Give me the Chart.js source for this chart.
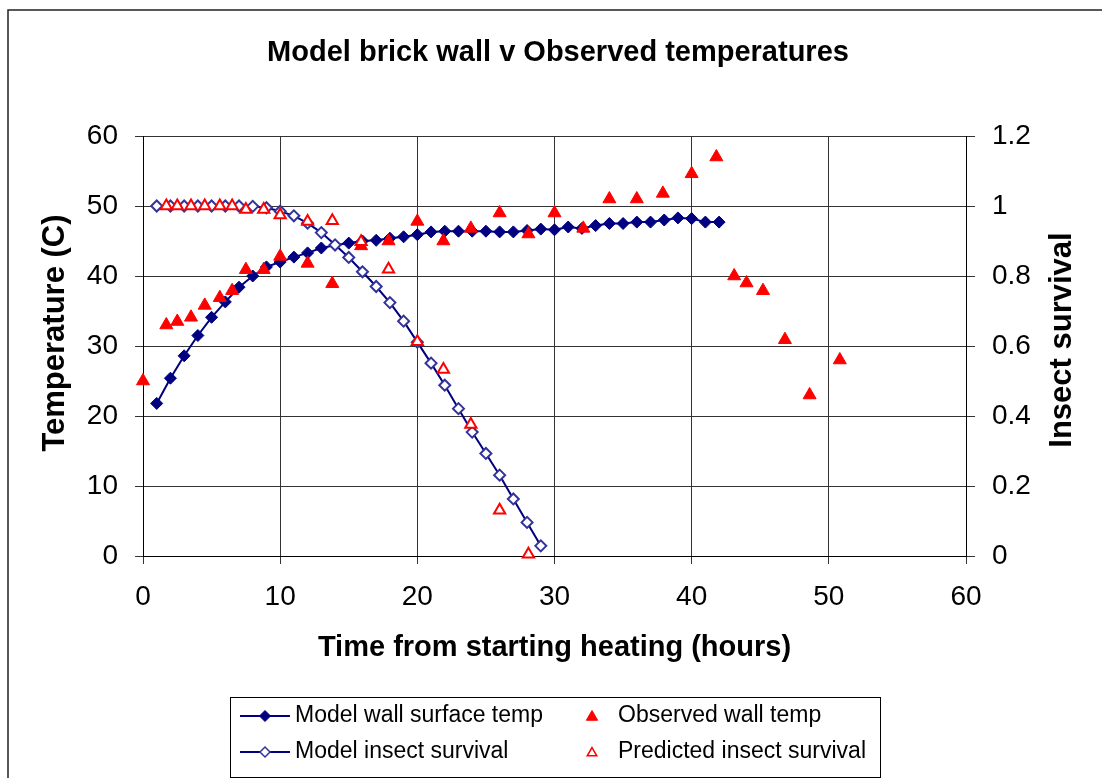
<!DOCTYPE html>
<html>
<head>
<meta charset="utf-8">
<title>Model brick wall v Observed temperatures</title>
<script src="https://cdn.jsdelivr.net/npm/chart.js@4.4.0/dist/chart.umd.min.js"></script>
<style>
  html, body { margin: 0; padding: 0; background: #fff; }
  #wrap { position: relative; width: 1102px; height: 778px; }
</style>
</head>
<body>
<div id="wrap"><canvas id="chart" width="1102" height="778"></canvas></div>
<script>
// Model run: hourly wall surface temperature (C)
const modelHours = [1, 2, 3, 4, 5, 6, 7, 8, 9, 10, 11, 12, 13, 14, 15, 16, 17, 18, 19, 20, 21,
  22, 23, 24, 25, 26, 27, 28, 29, 30, 31, 32, 33, 34, 35, 36, 37, 38, 39, 40, 41, 42];
const modelWallTemp = [21.8, 25.4, 28.6, 31.5, 34.1, 36.3, 38.4, 40.0, 41.3, 42.0, 42.7, 43.3,
  44.0, 44.4, 44.7, 45.0, 45.1, 45.4, 45.6, 45.9, 46.3, 46.4, 46.4, 46.4, 46.4, 46.3, 46.3,
  46.5, 46.7, 46.6, 47.0, 46.8, 47.2, 47.5, 47.5, 47.7, 47.7, 48.0, 48.3, 48.2, 47.7, 47.7];

// Model run: fraction of insects surviving
const survivalHours = [1, 2, 3, 4, 5, 6, 7, 8, 9, 10, 11, 12, 13, 14, 15, 16, 17, 18, 19, 20,
  21, 22, 23, 24, 25, 26, 27, 28, 29];
const modelSurvival = [1, 1, 1, 1, 1, 1, 1, 0.999, 0.995, 0.985, 0.972, 0.951, 0.924, 0.889,
  0.853, 0.812, 0.770, 0.724, 0.671, 0.611, 0.551, 0.488, 0.421, 0.354, 0.293, 0.231, 0.163,
  0.096, 0.029];

// Logged wall readings
const obsHours = [0, 1.7, 2.5, 3.5, 4.5, 5.6, 6.5, 7.5, 8.8, 10, 12, 13.8, 15.9, 17.9, 20, 21.9,
  23.9, 26, 28.1, 30, 32.1, 34, 36, 37.9, 40, 41.8, 43.1, 44, 45.2, 46.8, 48.6, 50.8];
const obsWallTemp = [25, 33, 33.5, 34.1, 35.8, 36.9, 37.9, 40.9, 40.9, 42.8, 41.8, 38.9, 44.3,
  45.0, 47.8, 45.0, 46.8, 49.0, 46.0, 49.0, 46.8, 51.0, 51.0, 51.8, 54.6, 57.0, 40.0, 39.0,
  37.9, 30.9, 23.0, 28.0];

// Survival predicted from the logged readings
const predHours = [1.7, 2.5, 3.5, 4.5, 5.6, 6.5, 7.5, 8.8, 10, 12, 13.8, 15.9, 17.9, 20, 21.9,
  23.9, 26, 28.1];
const predSurvival = [1, 1, 1, 1, 1, 1, 0.99, 0.99, 0.974, 0.956, 0.958, 0.898, 0.819, 0.612,
  0.533, 0.376, 0.131, 0.005];

const hourTicks = ['0', '10', '20', '30', '40', '50', '60'];
const tempTicks = ['0', '10', '20', '30', '40', '50', '60'];
const survivalTicks = ['0', '0.2', '0.4', '0.6', '0.8', '1', '1.2'];

const FONT = '"Liberation Sans", Arial, sans-serif';
const NAVY = '#000080';
const HOLLOW_BLUE = '#333399';
const RED = '#ff0000';
const GRID = '#333333';

const toPoints = (xs, ys) => xs.map((x, i) => ({ x, y: ys[i] }));

// outer frame of the chart object
const framePlugin = {
  id: 'frame',
  beforeDraw(chart) {
    const ctx = chart.ctx;
    ctx.save();
    ctx.fillStyle = '#fff';
    ctx.fillRect(0, 0, chart.width, chart.height);
    ctx.strokeStyle = '#222';
    ctx.lineWidth = 1.5;
    ctx.beginPath();
    ctx.moveTo(8, chart.height + 2);
    ctx.lineTo(8, 10);
    ctx.lineTo(chart.width + 2, 10);
    ctx.stroke();
    ctx.restore();
  }
};

// both value-axis titles read bottom-to-top
const axisTitlePlugin = {
  id: 'axisTitles',
  afterDraw(chart) {
    const ctx = chart.ctx;
    const titles = [
      { text: 'Temperature (C)', x: 55, y: 333 },
      { text: 'Insect survival', x: 1062, y: 340 }
    ];
    ctx.save();
    ctx.fillStyle = '#000';
    ctx.font = 'bold 31px ' + FONT;
    ctx.textAlign = 'center';
    ctx.textBaseline = 'middle';
    for (const t of titles) {
      ctx.save();
      ctx.translate(t.x, t.y);
      ctx.rotate(-Math.PI / 2);
      ctx.fillText(t.text, 0, 0);
      ctx.restore();
    }
    ctx.restore();
  }
};

// two-column legend box under the axis title
const legendBoxPlugin = {
  id: 'legendBox',
  afterDraw(chart) {
    const ctx = chart.ctx;
    const drawPoint = Chart.helpers.drawPoint;
    ctx.save();
    ctx.strokeStyle = '#000';
    ctx.lineWidth = 1;
    ctx.strokeRect(230.5, 697.5, 650, 80);

    const rows = [716, 752];
    const items = [
      { text: 'Model wall surface temp', col: 0, row: 0, line: true, style: 'rectRot', r: 5.5, fill: NAVY, stroke: NAVY, bw: 1 },
      { text: 'Model insect survival', col: 0, row: 1, line: true, style: 'rectRot', r: 5, fill: '#fff', stroke: HOLLOW_BLUE, bw: 1.5 },
      { text: 'Observed wall temp', col: 1, row: 0, line: false, style: 'triangle', r: 6.5, fill: RED, stroke: RED, bw: 1 },
      { text: 'Predicted insect survival', col: 1, row: 1, line: false, style: 'triangle', r: 5.5, fill: '#fff', stroke: RED, bw: 1.5 }
    ];
    ctx.font = '23px ' + FONT;
    ctx.textBaseline = 'middle';
    ctx.textAlign = 'left';
    for (const it of items) {
      const y = rows[it.row];
      const markX = it.col === 0 ? 265 : 592;
      const textX = it.col === 0 ? 295 : 618;
      if (it.line) {
        ctx.strokeStyle = NAVY;
        ctx.lineWidth = 2;
        ctx.beginPath();
        ctx.moveTo(240, y);
        ctx.lineTo(290, y);
        ctx.stroke();
      }
      ctx.fillStyle = it.fill;
      ctx.strokeStyle = it.stroke;
      ctx.lineWidth = it.bw;
      drawPoint(ctx, { pointStyle: it.style, radius: it.r, rotation: 0, borderWidth: it.bw }, markX, y + (it.style === 'triangle' ? 1 : 0));
      ctx.fillStyle = '#000';
      ctx.fillText(it.text, textX, y);
    }
    ctx.restore();
  }
};

new Chart(document.getElementById('chart'), {
  type: 'scatter',
  data: {
    datasets: [
      {
        label: 'Model wall surface temp',
        data: toPoints(modelHours, modelWallTemp),
        yAxisID: 'y',
        showLine: true,
        clip: false,
        borderColor: NAVY,
        borderWidth: 2,
        backgroundColor: NAVY,
        pointStyle: 'rectRot',
        pointRadius: 6,
        pointBorderWidth: 1,
        pointBorderColor: NAVY,
        pointBackgroundColor: NAVY,
        order: 4
      },
      {
        label: 'Model insect survival',
        data: toPoints(survivalHours, modelSurvival),
        yAxisID: 'y2',
        showLine: true,
        clip: false,
        borderColor: NAVY,
        borderWidth: 2,
        pointStyle: 'rectRot',
        pointRadius: 5.5,
        pointBorderWidth: 2,
        pointBorderColor: HOLLOW_BLUE,
        pointBackgroundColor: '#fff',
        order: 3
      },
      {
        label: 'Observed wall temp',
        data: toPoints(obsHours, obsWallTemp),
        yAxisID: 'y',
        showLine: false,
        clip: false,
        pointStyle: 'triangle',
        pointRadius: 7.5,
        pointBorderWidth: 1,
        pointBorderColor: RED,
        pointBackgroundColor: RED,
        order: 2
      },
      {
        label: 'Predicted insect survival',
        data: toPoints(predHours, predSurvival),
        yAxisID: 'y2',
        showLine: false,
        clip: false,
        pointStyle: 'triangle',
        pointRadius: 6.5,
        pointBorderWidth: 2,
        pointBorderColor: RED,
        pointBackgroundColor: '#fff',
        order: 1
      }
    ]
  },
  options: {
    responsive: false,
    animation: false,
    devicePixelRatio: 1,
    // left inset keeps the title centred over the plot block
    layout: { padding: { left: 14, right: 0, top: 0, bottom: 102 } },
    plugins: {
      legend: { display: false },
      tooltip: { enabled: false },
      title: {
        display: true,
        text: 'Model brick wall v Observed temperatures',
        color: '#000',
        font: { family: FONT, size: 29, weight: 'bold' },
        padding: { top: 36, bottom: 65.2 }
      }
    },
    scales: {
      x: {
        type: 'linear',
        min: 0,
        max: 60,
        ticks: {
          stepSize: 10,
          color: '#000',
          padding: 16,
          maxRotation: 0,
          font: { family: FONT, size: 28 },
          callback: (v, i) => hourTicks[i]
        },
        grid: { color: GRID, lineWidth: 1, tickLength: 8, drawTicks: true },
        border: { color: '#000', width: 1 },
        title: {
          display: true,
          text: 'Time from starting heating (hours)',
          color: '#000',
          font: { family: FONT, size: 29, weight: 'bold' },
          padding: { top: 0, bottom: 10.6 }
        },
        afterFit: scale => { scale.height = 120; }
      },
      y: {
        position: 'left',
        min: 0,
        max: 60,
        ticks: {
          stepSize: 10,
          color: '#000',
          padding: 17,
          font: { family: FONT, size: 28 },
          callback: (v, i) => tempTicks[i]
        },
        grid: { color: GRID, lineWidth: 1, tickLength: 8 },
        border: { color: '#000', width: 1 },
        afterFit: scale => { scale.width = 129; }
      },
      y2: {
        position: 'right',
        min: 0,
        max: 1.2,
        ticks: {
          stepSize: 0.2,
          color: '#000',
          padding: 17,
          font: { family: FONT, size: 28 },
          callback: (v, i) => survivalTicks[i]
        },
        grid: { drawOnChartArea: false, color: GRID, tickLength: 9 },
        border: { color: '#000', width: 1 },
        afterFit: scale => { scale.width = 136; }
      }
    }
  },
  plugins: [framePlugin, axisTitlePlugin, legendBoxPlugin]
});
</script>
</body>
</html>
